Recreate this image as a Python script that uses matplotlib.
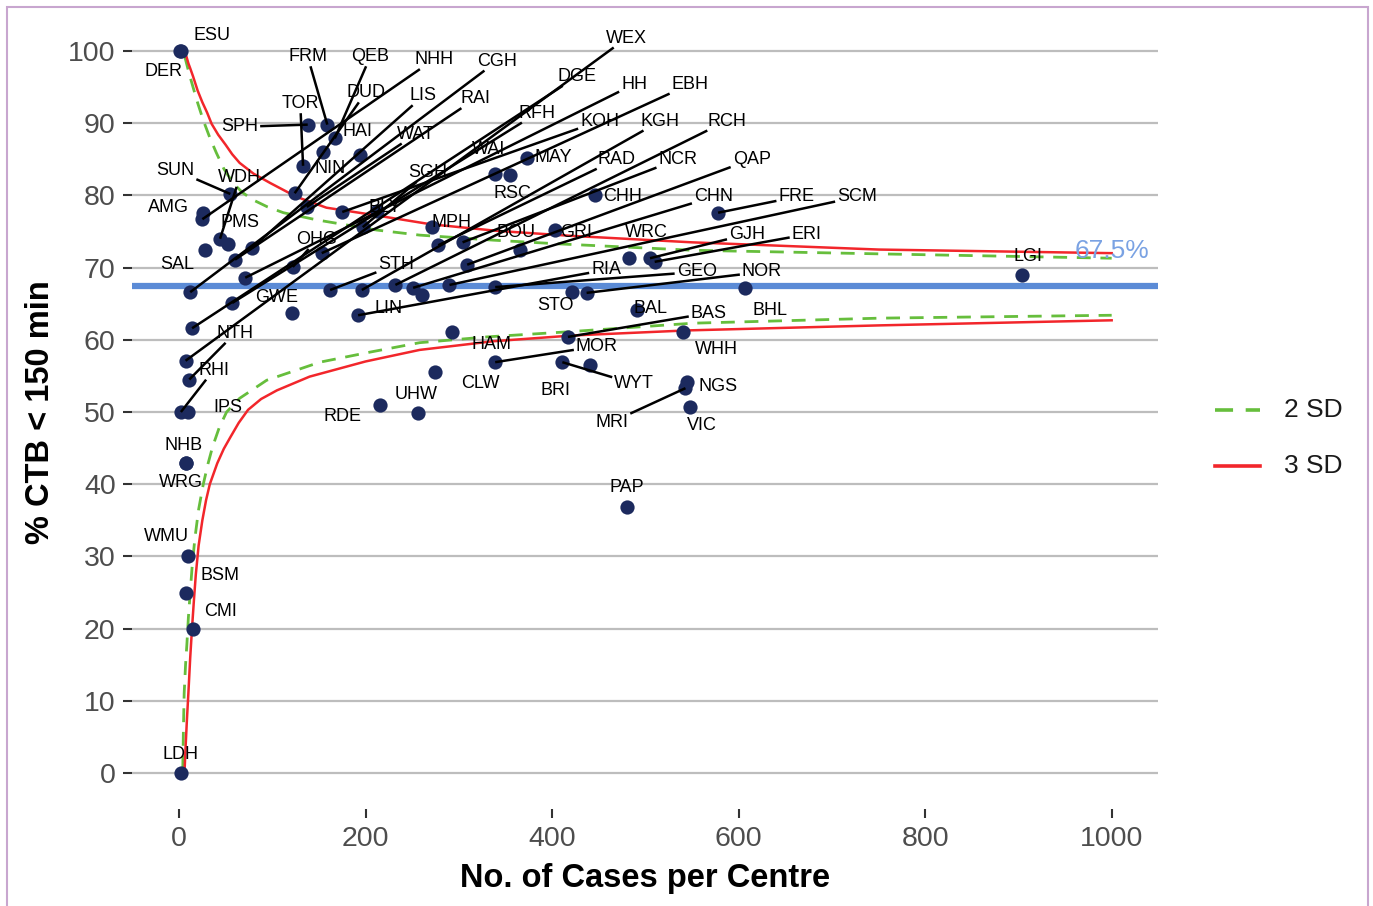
import matplotlib
matplotlib.use("Agg")
import matplotlib.pyplot as plt
from matplotlib import font_manager as fm
from matplotlib.lines import Line2D
from matplotlib.patches import Rectangle

# centres: name, cases, % CTB < 150 min
centre = ["ESU", "DER", "SPH", "FRM", "QEB", "NIN", "HAI", "TOR", "SUN", "DUD",
          "WAT", "KOH", "AMG", "NHH", "WDH", "PMS", "SAL", "LIS", "RAI", "EBH",
          "OHG", "HH", "CGH", "STH", "RFH", "GWE", "DGE", "WEX", "NTH", "RHI",
          "IPS", "NHB", "WRG", "WMU", "BSM", "CMI", "LDH",
          "WAI", "RSC", "MAY", "BLY", "SGH", "MPH", "RAD", "NCR", "GRI", "BOU",
          "QAP", "KGH", "RCH", "CHN", "LIN", "SCM", "GEO", "STO", "RIA", "HAM",
          "BAS", "MOR", "WYT", "CLW", "RDE", "UHW",
          "CHH", "FRE", "WRC", "GJH", "ERI", "NOR", "BHL", "BAL", "WHH", "BRI",
          "NGS", "MRI", "VIC", "PAP", "LGI"]
cases = [1, 2, 138, 159, 167, 154, 194, 133, 55, 124,
         137, 175, 26, 25, 44, 53, 28, 78, 60, 153,
         122, 71, 12, 162, 57, 121, 14, 7, 11, 2,
         10, 7, 7, 10, 8, 15, 2,
         339, 355, 373, 212, 197, 271, 278, 304, 403, 366,
         309, 196, 232, 251, 260, 290, 339, 421, 192, 293,
         417, 339, 411, 274, 215, 256,
         446, 578, 483, 505, 510, 437, 607, 491, 540, 441,
         545, 543, 548, 480, 904]
pct = [100, 100, 89.8, 89.8, 87.9, 86.0, 85.6, 84.1, 80.2, 80.3,
       78.4, 77.7, 77.6, 76.7, 74.0, 73.3, 72.4, 72.7, 71.1, 72.0,
       70.1, 68.6, 66.6, 66.9, 65.1, 63.7, 61.6, 57.1, 54.5, 50.0,
       50.0, 42.9, 42.9, 30.0, 25.0, 20.0, 0.0,
       83.0, 82.8, 85.2, 77.8, 75.6, 75.6, 73.1, 73.5, 75.2, 72.4,
       70.4, 66.9, 67.6, 67.2, 66.2, 67.6, 67.3, 66.6, 63.4, 61.1,
       60.4, 56.9, 56.9, 55.5, 51.0, 49.9,
       80.1, 77.6, 71.3, 71.3, 70.8, 66.5, 67.2, 64.1, 61.1, 56.5,
       54.2, 53.3, 50.7, 36.8, 69.0]

target = 67.5

# control limits
up2_n = [6, 8, 11, 15, 20, 26, 33, 40, 48, 58, 68, 79, 95, 112, 148, 212, 258, 337, 405, 551, 752, 1000]
up2 = [99.3, 98.3, 96.8, 95.0, 92.8, 90.4, 88.0, 85.9, 83.7, 81.7, 80.4, 79.4, 78.4, 77.6, 76.6, 75.2,
       74.5, 73.8, 73.3, 72.4, 71.9, 71.3]
lo2_n = [4, 4.7, 5.5, 7, 8.5, 10, 12, 14, 17, 21, 26, 31, 36, 43, 51, 65, 94, 151, 205, 258, 330,
         416, 551, 752, 1000]
lo2 = [0.5, 6, 11, 15, 18, 21.5, 25, 28.5, 32.5, 36.5, 40, 42.8, 45.2, 47.8, 50, 51.9, 54.4, 56.9,
       58.3, 59.6, 60.4, 61.1, 62.3, 63.0, 63.4]
up3_n = [6, 8, 10, 12, 15, 20, 25, 30, 35, 42, 50, 57, 65, 80, 98, 126, 158, 208, 270, 340, 420,
         550, 750, 1000]
up3 = [99.8, 99.2, 98.3, 97.6, 96.5, 94.5, 92.9, 91.5, 89.9, 88.4, 87.0, 85.7, 84.5, 83.0, 81.7,
       79.8, 78.3, 77.3, 76.0, 75.1, 74.4, 73.5, 72.5, 72.0]
lo3_n = [6, 7, 8.5, 10, 12, 14, 16, 18, 21, 25, 29, 33, 41, 48, 55, 64, 74, 88, 105, 140, 200, 258,
         337, 422, 545, 752, 1000]
lo3 = [0.5, 3.5, 7.5, 11, 16, 20.2, 24, 27.5, 31.5, 35, 37.8, 40, 42.9, 44.9, 46.5, 48.5, 50.3,
       51.8, 53.0, 54.9, 57.0, 58.6, 59.8, 60.6, 61.3, 62.0, 62.7]

# repelled label positions (data units) and whether a leader segment is drawn
lab_x = [35, -17, 65, 138, 205, 162, 191, 130, -4, 200,
         254, 451, -11, 273, 65, 65, -2, 262, 318, 548,
         148, 488, 341, 233, 384, 105, 427, 480, 60, 37,
         52, 5, 2, -14, 44, 45, 2,
         332, 357, 401, 221, 267, 292, 469, 535, 426, 361,
         614, 516, 587, 573, 225, 727, 555, 404, 458, 335,
         568, 448, 488, 323, 175, 254,
         476, 662, 501, 609, 673, 625, 634, 506, 576, 404,
         578, 464, 561, 480, 910]
lab_y = [102.2, 97.1, 89.5, 99.2, 99.2, 83.7, 88.9, 92.7, 83.5, 94.2,
         88.5, 90.3, 78.3, 98.8, 82.5, 76.3, 70.4, 93.8, 93.4, 95.4,
         73.9, 95.4, 98.6, 70.4, 91.4, 65.9, 96.5, 101.8, 60.9, 55.8,
         50.6, 45.4, 40.2, 32.7, 27.4, 22.3, 2.6,
         86.3, 80.2, 85.3, 78.3, 83.2, 76.3, 85.0, 85.0, 74.9, 74.9,
         85.0, 90.3, 90.3, 79.8, 64.3, 79.8, 69.4, 64.7, 69.7, 59.4,
         63.7, 59.1, 53.9, 53.9, 49.4, 52.4,
         79.9, 79.8, 74.9, 74.6, 74.6, 69.4, 64.0, 64.3, 58.7, 53.0,
         53.5, 48.6, 48.1, 39.5, 71.5]
leader = {"SPH", "FRM", "QEB", "TOR", "SUN", "DUD", "WAT", "KOH", "NHH", "WDH",
          "LIS", "RAI", "EBH", "OHG", "HH", "CGH", "STH", "RFH", "DGE", "WEX",
          "NTH", "RHI", "SGH", "RAD", "NCR", "QAP", "KGH", "RCH", "CHN", "SCM",
          "GEO", "RIA", "BAS", "MOR", "WYT", "FRE", "GJH", "ERI", "NOR", "MRI"}

names = {f.name for f in fm.fontManager.ttflist}
narrow = "Liberation Sans Narrow" if "Liberation Sans Narrow" in names else "Liberation Sans"
plt.rcParams["font.family"] = "Liberation Sans"

W, H = 1373, 906
fig = plt.figure(figsize=(W / 100, H / 100), dpi=100)
ax = fig.add_axes([132.4 / W, 1 - 809.1 / H, 1025.9 / W, 794.2 / H])
ax.set_xlim(-50, 1050)
ax.set_ylim(-5, 105)

for s in ax.spines.values():
    s.set_visible(False)
ax.set_yticks(range(0, 101, 10))
ax.set_xticks(range(0, 1001, 200))
ax.yaxis.grid(True, color="#BDBDBD", linewidth=1.6)
ax.set_axisbelow(True)
ax.tick_params(length=6.5, width=1.5, color="#333333", pad=5.5,
               labelsize=20.5, labelcolor="#4D4D4D")
for lab in ax.get_xticklabels() + ax.get_yticklabels():
    lab.set_fontfamily(narrow)

ax.axhline(target, color="#5B8BD6", linewidth=4.5, zorder=1.5)
ax.plot(up2_n, up2, color="#66BE3C", lw=2.0, dashes=(5, 3.5), zorder=2)
ax.plot(lo2_n, lo2, color="#66BE3C", lw=2.0, dashes=(5, 3.5), zorder=2)
ax.plot(up3_n, up3, color="#F2262B", lw=1.8, zorder=2.1)
ax.plot(lo3_n, lo3, color="#F2262B", lw=1.8, zorder=2.1)
ax.text(1000, 72.3, "67.5%", color="#7AA2E3", fontsize=19, ha="center", va="center", zorder=3)

ax.scatter(cases, pct, s=105, color="#1C2A5E", zorder=4, linewidths=0)

texts = []
for name, lx, ly in zip(centre, lab_x, lab_y):
    texts.append(ax.text(lx, ly, name, fontsize=13, ha="center", va="center", zorder=6))

# leader segments from each point to the edge of its label
fig.canvas.draw()
rend = fig.canvas.get_renderer()
inv = ax.transData.inverted()
for name, t, x0, y0 in zip(centre, texts, cases, pct):
    if name not in leader:
        continue
    bb = t.get_window_extent(rend)
    cx, cy = (bb.x0 + bb.x1) / 2, (bb.y0 + bb.y1) / 2
    hw, hh = bb.width / 2 + 2, bb.height / 2 + 1
    px, py = ax.transData.transform((x0, y0))
    dx, dy = px - cx, py - cy
    k = min(hw / abs(dx) if dx else 1e9, hh / abs(dy) if dy else 1e9)
    ex, ey = cx + k * dx, cy + k * dy
    (ax0, ay0), (ax1, ay1) = inv.transform([(px, py), (ex, ey)])
    ax.plot([ax0, ax1], [ay0, ay1], color="black", lw=1.8, zorder=5, solid_capstyle="butt")

ax.set_xlabel("No. of Cases per Centre", fontsize=23.5, fontweight="bold", family=narrow, labelpad=8)
ax.set_ylabel("% CTB < 150 min", fontsize=23.5, fontweight="bold", family=narrow, labelpad=9)

# legend to the right of the panel
fig.add_artist(Line2D([1215 / W, 1260 / W], [1 - 410 / H] * 2, color="#66BE3C", lw=2.6,
                      dashes=(5, 3.5)))
fig.add_artist(Line2D([1215 / W, 1260 / W], [1 - 466 / H] * 2, color="#F2262B", lw=2.6))
fig.text(1284 / W, 1 - 410 / H, "2 SD", fontsize=19, va="center", color="#1A1A1A")
fig.text(1284 / W, 1 - 466 / H, "3 SD", fontsize=19, va="center", color="#1A1A1A")

fig.add_artist(Rectangle((7 / W, -0.01), 1361 / W, 1 - 7 / H + 0.01, transform=fig.transFigure,
                         fill=False, edgecolor="#C8A6CF", lw=1.5))

fig.savefig("out.png", dpi=100)
